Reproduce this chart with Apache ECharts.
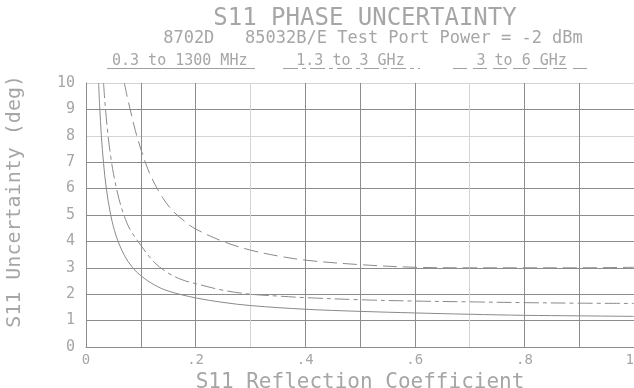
<!DOCTYPE html>
<html>
<head>
<meta charset="utf-8">
<script src="https://cdn.jsdelivr.net/npm/echarts@6/dist/echarts.min.js"></script>
<style>html,body{margin:0;padding:0;background:#fff}#c{width:634px;height:388px}</style>
</head>
<body>
<div id="c"></div>
<script>
// ---- data ----
const titleText = 'S11 PHASE UNCERTAINTY';
const subtitleText = '8702D   85032B/E Test Port Power = -2 dBm';
const seriesNames = ['0.3 to 1300 MHz', '1.3 to 3 GHz', '3 to 6 GHz'];
const xAxisTitle = 'S11 Reflection Coefficient';
const yAxisTitle = 'S11 Uncertainty (deg)';
const xTickLabels = {0: '0', 2: '.2', 4: '.4', 6: '.6', 8: '.8', 10: '1'};

const lowX  = [0.023, 0.025, 0.028, 0.032, 0.037, 0.045, 0.055, 0.07, 0.085, 0.1, 0.125, 0.15, 0.2, 0.25, 0.3, 0.4, 0.5, 0.6, 0.7, 0.8, 0.9, 1.0];
const lowY  = [10, 9.09, 8.01, 6.96, 6.02, 5.01, 4.21, 3.47, 3.01, 2.70, 2.35, 2.12, 1.86, 1.69, 1.57, 1.43, 1.35, 1.29, 1.24, 1.20, 1.18, 1.16];

const midX  = [0.032, 0.035, 0.04, 0.045, 0.05, 0.06, 0.07, 0.08, 0.1, 0.125, 0.15, 0.175, 0.2, 0.25, 0.3, 0.35, 0.4, 0.5, 0.6, 0.7, 0.8, 0.9, 1.0];
const midY  = [10, 9.15, 8.06, 7.23, 6.58, 5.62, 4.95, 4.47, 3.85, 3.2, 2.8, 2.55, 2.4, 2.15, 2.0, 1.93, 1.87, 1.79, 1.74, 1.71, 1.68, 1.66, 1.65];

const highX = [0.07, 0.075, 0.08, 0.09, 0.1, 0.11, 0.12, 0.14, 0.16, 0.18, 0.2, 0.25, 0.3, 0.35, 0.4, 0.5, 0.6, 0.7, 0.8, 0.9, 1.0];
const highY = [10, 9.5, 9.05, 8.2, 7.5, 6.9, 6.4, 5.65, 5.12, 4.76, 4.47, 4.0, 3.67, 3.45, 3.29, 3.12, 3.02, 3.0, 3.0, 3.0, 3.02];

// ---- chart ----
const FONT = 'DejaVu Sans Mono';
const TXT = '#a6a6a6';
const CURVE = '#8a8a8a';
const DASHES = ['solid', [15, 4, 4, 4], [14, 6]];
const zip = (xs, ys) => xs.map((x, i) => [x, ys[i]]);
const dataSets = [zip(lowX, lowY), zip(midX, midY), zip(highX, highY)];

const ySplitColors = [];
for (let i = 0; i <= 10; i++) ySplitColors.push(i === 8 || i === 10 ? '#d4d4d4' : '#8c8c8c');
const xSplitColors = [];
for (let i = 0; i <= 10; i++) xSplitColors.push(i === 3 || i === 7 ? '#d4d4d4' : '#8c8c8c');

const legendPos = [[107, 255], [283, 420], [453, 592]];
const graphics = [];
seriesNames.forEach((n, i) => {
  const [a, b] = legendPos[i];
  graphics.push({type: 'text', left: (a + b) / 2 - n.length * 4.6, top: 54,
    style: {text: n, font: '15px "' + FONT + '"', fill: TXT}});
  graphics.push({type: 'line', shape: {x1: a, y1: 68.5, x2: b, y2: 68.5},
    style: {stroke: '#a0a0a0', lineWidth: 1, lineDash: i === 0 ? null : DASHES[i]}});
});
graphics.push({type: 'text', left: 5, top: 75, rotation: Math.PI / 2,
  style: {text: yAxisTitle, font: '20px "' + FONT + '"', fill: TXT}});

const chart = echarts.init(document.getElementById('c'));
chart.setOption({
  backgroundColor: '#fff',
  animation: false,
  title: [
    {text: titleText, left: 360, top: 2, textAlign: 'center',
     textStyle: {fontFamily: FONT, fontSize: 24, fontWeight: 'normal', color: TXT}},
    {text: subtitleText, left: 368, top: 25, textAlign: 'center',
     textStyle: {fontFamily: FONT, fontSize: 17, fontWeight: 'normal', color: TXT}}
  ],
  grid: {left: 86, right: 0, top: 83, bottom: 41, containLabel: false, outerBoundsMode: 'none'},
  xAxis: {
    type: 'value', min: 0, max: 1, interval: 0.1,
    name: xAxisTitle, nameLocation: 'middle', nameGap: 24,
    nameTextStyle: {fontFamily: FONT, fontSize: 21, color: TXT},
    axisLine: {show: true, lineStyle: {color: '#8c8c8c'}},
    axisTick: {show: false},
    axisLabel: {fontFamily: FONT, fontSize: 14, color: TXT, margin: 6, showMaxLabel: true,
      alignMaxLabel: 'right',
      formatter: v => { const k = Math.round(v * 10); return xTickLabels[k] !== undefined ? xTickLabels[k] : ''; }},
    splitLine: {show: true, lineStyle: {color: xSplitColors, width: 1}}
  },
  yAxis: {
    type: 'value', min: 0, max: 10, interval: 1,
    axisLine: {show: true, lineStyle: {color: '#8c8c8c'}},
    axisTick: {show: false},
    axisLabel: {fontFamily: FONT, fontSize: 15, color: TXT, margin: 11},
    splitLine: {show: true, lineStyle: {color: ySplitColors, width: 1}}
  },
  graphic: graphics,
  series: dataSets.map((d, i) => ({
    name: seriesNames[i], type: 'line', data: d, smooth: 0.35, symbol: 'none',
    clip: true,
    lineStyle: {color: CURVE, width: 1, type: DASHES[i]}
  }))
});
</script>
</body>
</html>
